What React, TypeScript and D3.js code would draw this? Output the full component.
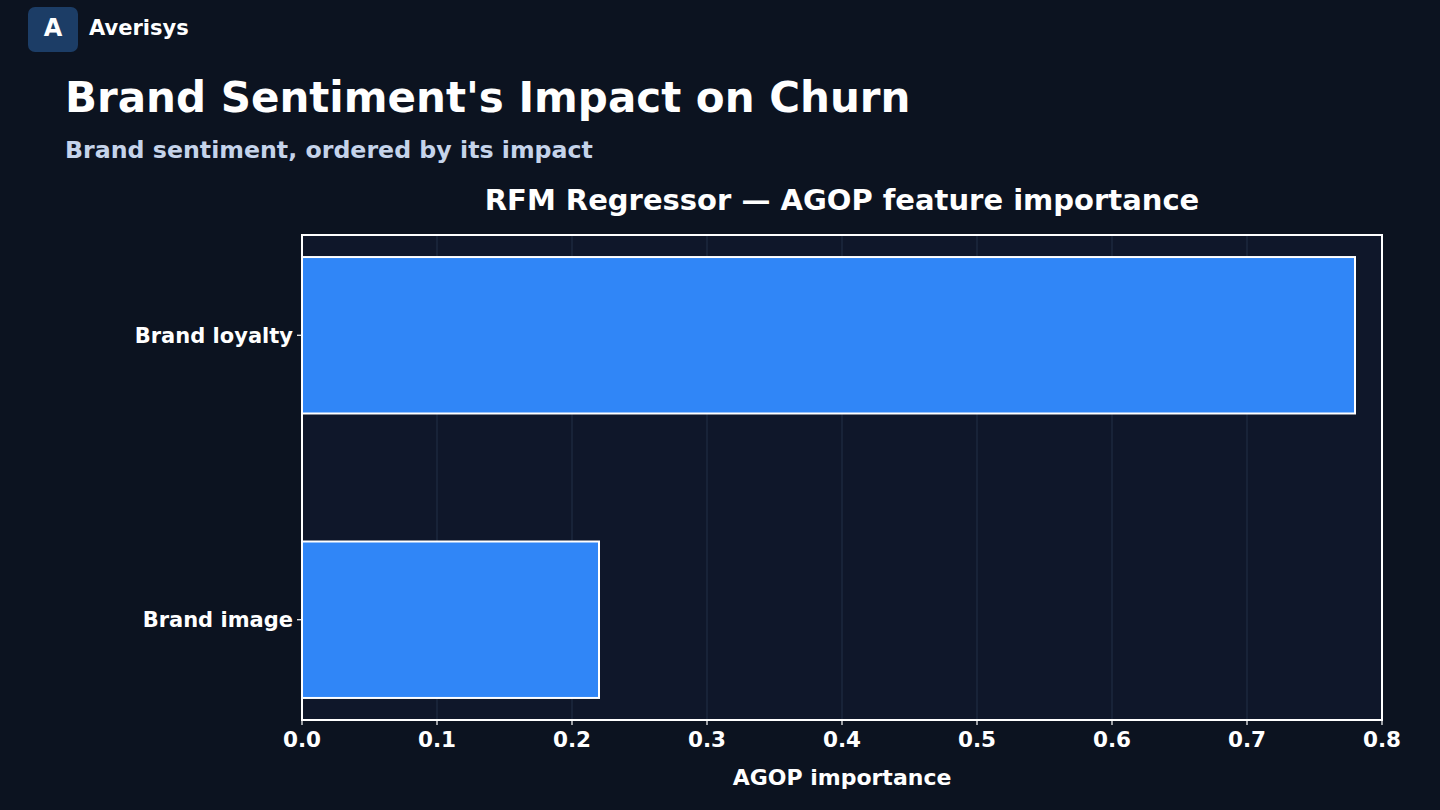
import React from "react";
import * as d3 from "d3";

const categories = ["Brand loyalty", "Brand image"];
const importance = [0.78, 0.22];
const xTicks = [0, 0.1, 0.2, 0.3, 0.4, 0.5, 0.6, 0.7, 0.8];

const W = 1440;
const H = 810;
const FONT = "DejaVu Sans, Verdana, sans-serif";

export default function App() {
  const left = 302, right = 1382, top = 235, bottom = 720;
  const x = d3.scaleLinear().domain([0, 0.8]).range([left, right]);
  // matplotlib-like categorical axis: positions 0..n-1, bar height 0.55, 5% margins
  const n = categories.length;
  const barH = 0.55;
  const lo = -barH / 2, hi = n - 1 + barH / 2;
  const m = (hi - lo) * 0.05;
  const y = d3.scaleLinear().domain([lo - m, hi + m]).range([top, bottom]);

  return (
    <svg width={W} height={H} style={{ position: "absolute", left: 0, top: 0 }} fontFamily={FONT}>
      <rect x={0} y={0} width={W} height={H} fill="#0c1320" />
      {/* logo */}
      <rect x={28} y={7} width={50} height={45} rx={7} fill="#1c3d66" />
      <text x={53} y={36} textAnchor="middle" fontSize={24} fontWeight="bold" fill="#ffffff">A</text>
      <text x={89} y={35} fontSize={21} fontWeight="bold" fill="#ffffff">Averisys</text>
      {/* titles */}
      <text x={65} y={112} fontSize={42} fontWeight="bold" fill="#ffffff">Brand Sentiment's Impact on Churn</text>
      <text x={65} y={158} fontSize={23.7} fontWeight="bold" fill="#c5d3ea">Brand sentiment, ordered by its impact</text>
      <text x={(left + right) / 2} y={210} textAnchor="middle" fontSize={29} fontWeight="bold" fill="#ffffff">
        RFM Regressor — AGOP feature importance
      </text>
      {/* plot area */}
      <rect x={left} y={top} width={right - left} height={bottom - top} fill="#0f172a" />
      {xTicks.slice(1, -1).map((t) => (
        <line key={t} x1={x(t)} x2={x(t)} y1={top} y2={bottom} stroke="#233047" strokeWidth={1} />
      ))}
      {categories.map((c, i) => (
        <rect
          key={c}
          x={x(0)}
          y={y(i - barH / 2)}
          width={x(importance[i]) - x(0)}
          height={y(i + barH / 2) - y(i - barH / 2)}
          fill="#3086f7"
          stroke="#ffffff"
          strokeWidth={2}
        />
      ))}
      <rect x={left} y={top} width={right - left} height={bottom - top} fill="none" stroke="#ffffff" strokeWidth={2} />
      {/* y axis */}
      {categories.map((c, i) => (
        <g key={c}>
          <line x1={left - 5} x2={left} y1={y(i)} y2={y(i)} stroke="#ffffff" strokeWidth={1.2} />
          <text x={left - 9} y={y(i) + 7.5} textAnchor="end" fontSize={21} fontWeight="bold" fill="#ffffff">{c}</text>
        </g>
      ))}
      {/* x axis */}
      {xTicks.map((t) => (
        <g key={t}>
          <line x1={x(t)} x2={x(t)} y1={bottom} y2={bottom + 5} stroke="#ffffff" strokeWidth={1.2} />
          <text x={x(t)} y={747} textAnchor="middle" fontSize={21.5} fontWeight="bold" fill="#ffffff">{t.toFixed(1)}</text>
        </g>
      ))}
      <text x={(left + right) / 2} y={785} textAnchor="middle" fontSize={22} fontWeight="bold" fill="#ffffff">AGOP importance</text>
    </svg>
  );
}
